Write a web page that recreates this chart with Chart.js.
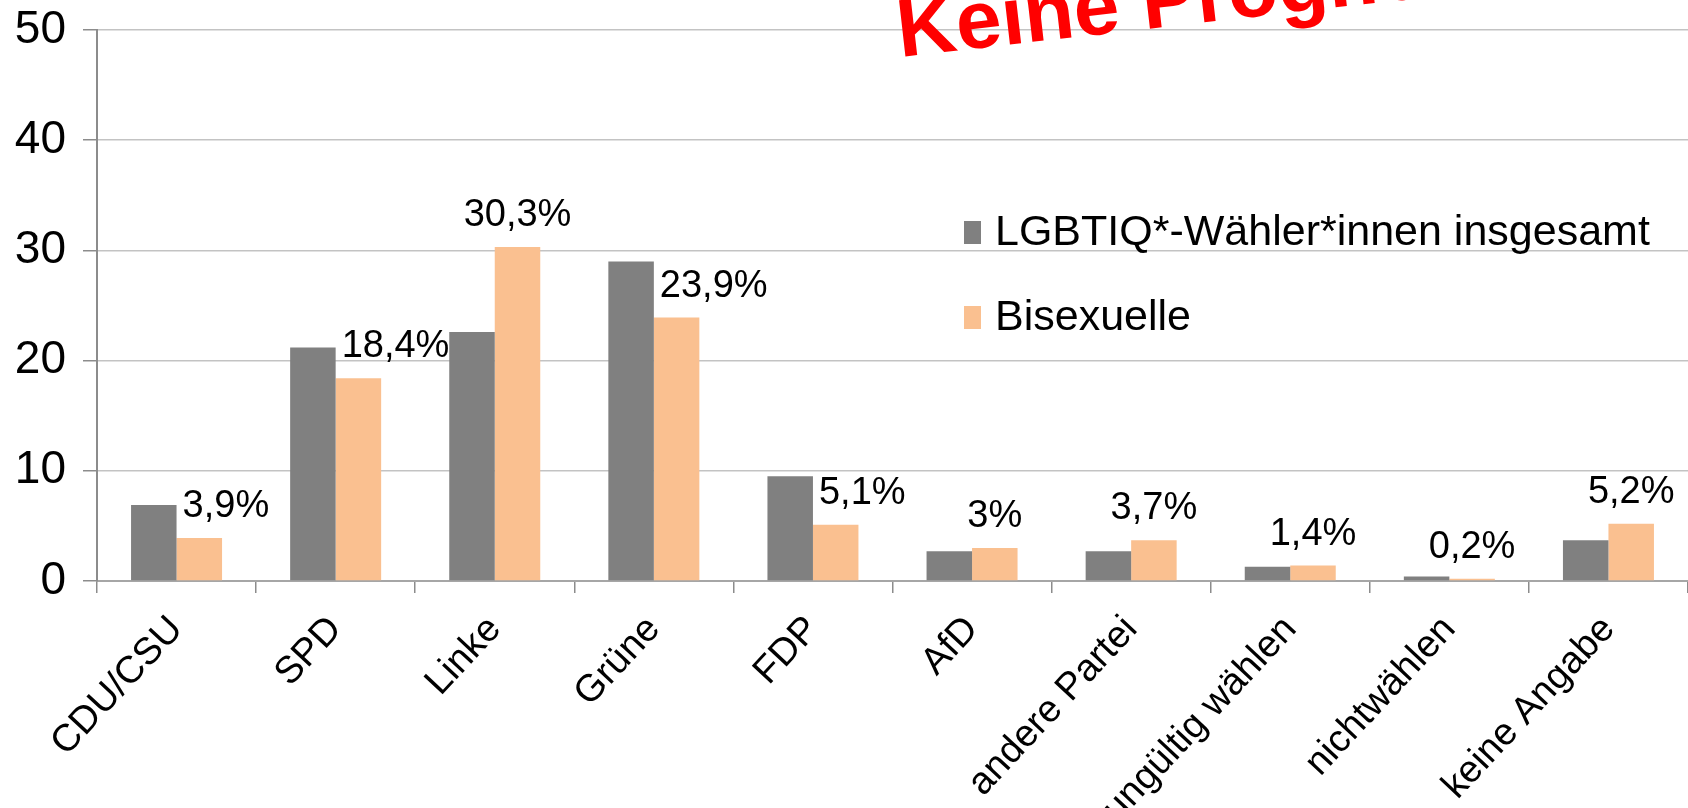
<!DOCTYPE html>
<html lang="de">
<head>
<meta charset="utf-8">
<title>Wahlabsicht LGBTIQ* / Bisexuelle</title>
<script src="https://cdn.jsdelivr.net/npm/chart.js@4.4.1/dist/chart.umd.min.js"></script>
<style>
  html, body { margin: 0; padding: 0; background: #fff; }
  #wrap { width: 1688px; height: 808px; position: relative; }
</style>
</head>
<body>
<div id="wrap"><canvas id="chart"></canvas></div>
<script>
'use strict';

const categories = ['CDU/CSU', 'SPD', 'Linke', 'Grüne', 'FDP', 'AfD', 'andere Partei', 'ungültig wählen', 'nichtwählen', 'keine Angabe'];
const seriesNames = ['LGBTIQ*-Wähler*innen insgesamt', 'Bisexuelle'];
const allValues = [6.9, 21.2, 22.6, 29.0, 9.5, 2.7, 2.7, 1.3, 0.4, 3.7];
const biValues = [3.9, 18.4, 30.3, 23.9, 5.1, 3, 3.7, 1.4, 0.2, 5.2];
const yTicks = [0, 10, 20, 30, 40, 50];
const stampText = 'Keine Prognose';

const FONT = "'Liberation Sans', Arial, sans-serif";

// Prozentwerte über den Balken der Bisexuellen
const valueLabels = {
    id: 'valueLabels',
    afterDatasetsDraw(chart) {
        const ctx = chart.ctx;
        const grey = chart.getDatasetMeta(0).data;
        const bars = chart.getDatasetMeta(1).data;
        ctx.save();
        ctx.font = '38px ' + FONT;
        ctx.fillStyle = '#000';
        ctx.textBaseline = 'alphabetic';
        bars.forEach((bar, i) => {
            const text = String(biValues[i]).replace('.', ',') + '%';
            const y = bar.y - 21;
            if (grey[i].y < bar.y - 8) {
                ctx.textAlign = 'left';
                ctx.fillText(text, bar.x - bar.width / 2 + 6, y);
            } else {
                ctx.textAlign = 'center';
                ctx.fillText(text, bar.x, y);
            }
        });
        ctx.restore();
    }
};

// Legende innerhalb der Grafik
const innerLegend = {
    id: 'innerLegend',
    afterDraw(chart) {
        const ctx = chart.ctx;
        const rows = [245, 330];
        ctx.save();
        ctx.font = '43px ' + FONT;
        ctx.textAlign = 'left';
        ctx.textBaseline = 'alphabetic';
        chart.data.datasets.forEach((ds, i) => {
            const base = rows[i];
            ctx.fillStyle = ds.backgroundColor;
            ctx.fillRect(964, base - 24, 17, 23);
            ctx.fillStyle = '#000';
            ctx.fillText(ds.label, 995, base);
        });
        ctx.restore();
    }
};

// roter Stempel oben
const stamp = {
    id: 'stamp',
    afterDraw(chart) {
        const ctx = chart.ctx;
        ctx.save();
        ctx.translate(900, 57);
        ctx.rotate(-6.5 * Math.PI / 180);
        ctx.font = 'bold 82px ' + FONT;
        ctx.fillStyle = '#ff0000';
        ctx.textAlign = 'left';
        ctx.textBaseline = 'alphabetic';
        ctx.fillText(stampText, 0, 0);
        ctx.restore();
    }
};

new Chart(document.getElementById('chart'), {
    type: 'bar',
    data: {
        labels: categories,
        datasets: [
            {
                label: seriesNames[0],
                data: allValues,
                backgroundColor: '#808080',
                categoryPercentage: 0.572,
                barPercentage: 1.0
            },
            {
                label: seriesNames[1],
                data: biValues,
                backgroundColor: '#fac090',
                categoryPercentage: 0.572,
                barPercentage: 1.0
            }
        ]
    },
    options: {
        responsive: true,
        maintainAspectRatio: false,
        animation: false,
        layout: { padding: { top: 30, right: 0, left: 0, bottom: 0 } },
        plugins: {
            legend: { display: false },
            tooltip: { enabled: false }
        },
        scales: {
            x: {
                afterFit(scale) {
                    scale.height = 227;
                    scale.paddingLeft = 0;
                    scale.paddingRight = 0;
                },
                grid: {
                    offset: true,
                    drawOnChartArea: false,
                    drawTicks: true,
                    tickLength: 12,
                    tickColor: '#8c8c8c',
                    lineWidth: 1.5
                },
                border: { color: '#a6a6a6', width: 2 },
                ticks: {
                    autoSkip: false,
                    minRotation: 47,
                    maxRotation: 47,
                    padding: 17,
                    color: '#000',
                    font: { family: FONT, size: 38, lineHeight: 1 }
                }
            },
            y: {
                min: 0,
                max: 50,
                afterFit(scale) {
                    scale.width = 97;
                    scale.paddingTop = 0;
                    scale.paddingBottom = 0;
                },
                afterBuildTicks(scale) { scale.ticks = yTicks.map(v => ({ value: v })); },
                grid: {
                    color: '#c3c3c3',
                    lineWidth: 1.5,
                    tickLength: 14,
                    tickColor: '#8c8c8c'
                },
                border: { color: '#8c8c8c', width: 2 },
                ticks: {
                    padding: 17,
                    color: '#000',
                    font: { family: FONT, size: 46 }
                }
            }
        }
    },
    plugins: [valueLabels, innerLegend, stamp]
});
</script>
</body>
</html>
